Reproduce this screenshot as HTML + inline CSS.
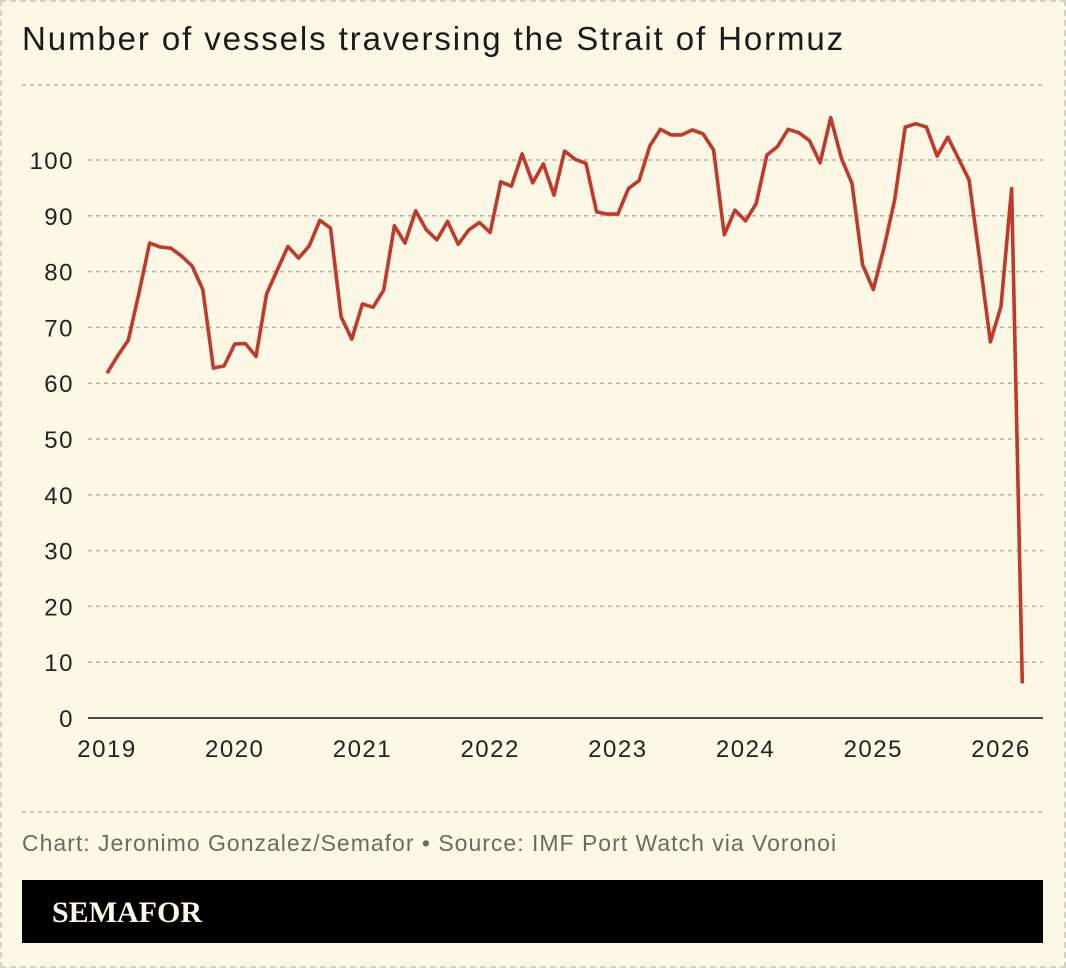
<!DOCTYPE html>
<html><head><meta charset="utf-8"><style>
body{margin:0;background:#fff}
#wrap{position:relative;width:1066px;height:968px;background:#fdf8e5;box-sizing:border-box;border:2px dashed #d6d3c4;font-family:"Liberation Sans",sans-serif}
</style></head><body>
<div id="wrap">
<svg width="1066" height="968" style="position:absolute;left:-2px;top:-2px">
<text x="22" y="50" font-size="33" letter-spacing="1.9" fill="#1a1a1a">Number of vessels traversing the Strait of Hormuz</text>
<line x1="22" y1="85" x2="1043" y2="85" stroke="#b5b2a6" stroke-dasharray="4,4" stroke-width="1.5"/>
<g id="grid"></g>
<g id="ylab"></g>
<g id="xlab"></g>
<line x1="88" y1="718" x2="1043" y2="718" stroke="#111" stroke-width="1.5"/>
<path id="line" fill="none" stroke="#c0392b" stroke-width="3.6" stroke-linejoin="round"/>
<line x1="22" y1="812" x2="1043" y2="812" stroke="#b5b2a6" stroke-dasharray="4,4" stroke-width="1.5"/>
<text x="22" y="851" font-size="23" letter-spacing="1" fill="#6b6a63">Chart: Jeronimo Gonzalez/Semafor • Source: IMF Port Watch via Voronoi</text>
<rect x="22" y="880" width="1021" height="63" fill="#000"/>
<text x="52" y="922" font-size="30" font-weight="bold" fill="#fdf8e5" font-family="Liberation Serif, serif">SEMAFOR</text>
</svg>
</div>
<script>
const values=[61.8,64.9,67.7,76.1,85.1,84.4,84.2,82.8,81.0,76.8,62.7,63.1,
67.0,67.1,64.8,76.0,80.3,84.5,82.4,84.6,89.2,87.8,71.9,67.9,
74.2,73.6,76.7,88.2,85.1,90.9,87.5,85.7,89.0,84.9,87.5,88.8,
87.0,96.1,95.3,101.1,95.9,99.3,93.7,101.6,100.1,99.4,90.7,90.3,
90.3,94.9,96.3,102.5,105.5,104.5,104.5,105.4,104.7,101.8,86.6,91.0,
89.1,92.2,100.9,102.4,105.5,104.9,103.5,99.5,107.6,100.3,95.8,81.2,
76.8,84.2,92.8,105.9,106.5,105.9,100.7,104.1,100.3,96.4,82.1,67.4,
73.8,94.9,6.2];
const yTicks=[0,10,20,30,40,50,60,70,80,90,100];
const xTicks=[2019,2020,2021,2022,2023,2024,2025,2026];
const NS="http://www.w3.org/2000/svg";
const x=i=>107+i*(1001-107)/84;
const y=v=>718-v*5.58;
const grid=document.getElementById('grid'),yl=document.getElementById('ylab'),xl=document.getElementById('xlab');
yTicks.forEach(t=>{
 if(t>0){const l=document.createElementNS(NS,'line');
 
 
 l.setAttribute('x1',88);l.setAttribute('x2',1043);l.setAttribute('y1',y(t));l.setAttribute('y2',y(t));
 l.setAttribute('stroke','#b5b2a6');l.setAttribute('stroke-dasharray','4,4');l.setAttribute('stroke-width','1.5');grid.appendChild(l);}
 const tx=document.createElementNS(NS,'text');
 
 
 tx.setAttribute('x',74);tx.setAttribute('y',y(t)+9);tx.setAttribute('text-anchor','end');tx.setAttribute('font-size','24');tx.setAttribute('letter-spacing','1.5');tx.setAttribute('fill','#222');
 tx.textContent=t;yl.appendChild(tx);
});
xTicks.forEach((yr,k)=>{
 const tx=document.createElementNS(NS,'text');
 
 
 tx.setAttribute('x',x(k*12));tx.setAttribute('y',757);tx.setAttribute('text-anchor','middle');tx.setAttribute('font-size','24');tx.setAttribute('letter-spacing','1.5');tx.setAttribute('fill','#222');
 tx.textContent=yr;xl.appendChild(tx);
});
document.getElementById('line').setAttribute('d',values.map((v,i)=>(i?'L':'M')+x(i).toFixed(1)+','+y(v).toFixed(1)).join(''));
</script>
</body></html>
